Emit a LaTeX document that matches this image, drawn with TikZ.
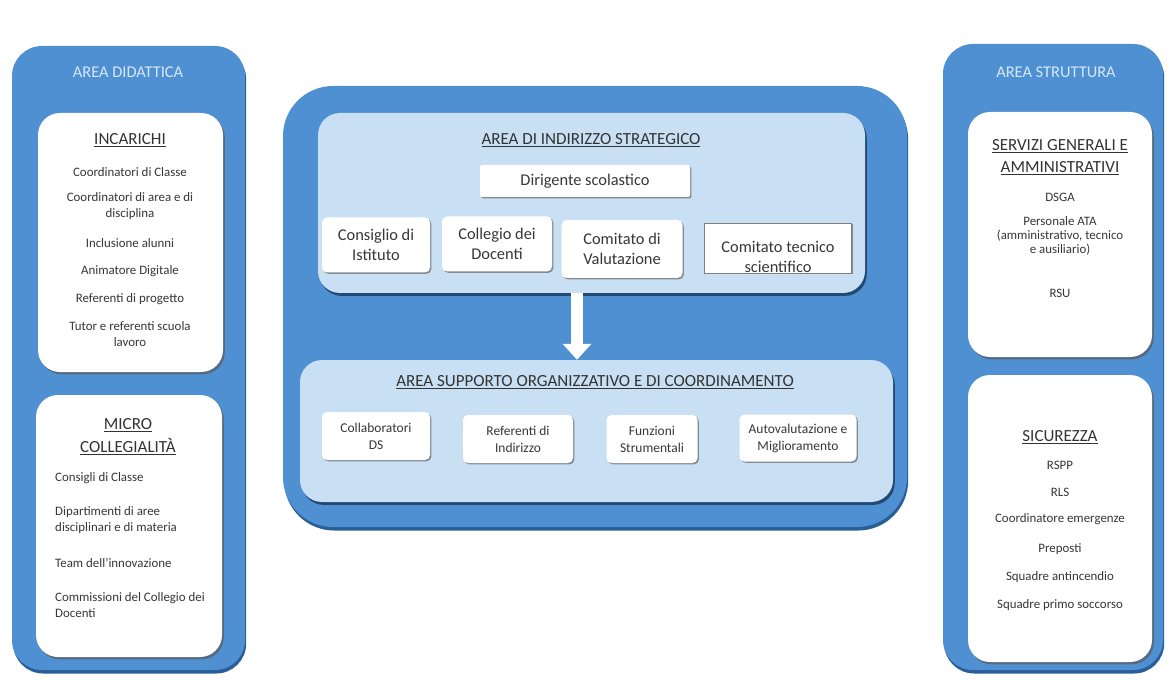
\documentclass[tikz,border=0pt]{standalone}
\usepackage{fontspec}
\setmainfont{Carlito}
\usetikzlibrary{arrows.meta,shadows}

\definecolor{areablu}{RGB}{79,144,210}
\definecolor{bordoblu}{RGB}{42,94,150}
\definecolor{azzurro}{RGB}{201,223,243}
\definecolor{titchiaro}{RGB}{214,231,248}
\definecolor{testo}{RGB}{55,55,55}

\def\pu{0.03cm}

\begin{document}
\begin{tikzpicture}[x=0.03cm, y=-0.03cm,
  colonna/.style={fill=areablu, rounded corners=30*\pu,
    drop shadow={shadow xshift=1pt, shadow yshift=-3pt, fill=bordoblu, opacity=1}},
  grande/.style={colonna, rounded corners=50*\pu},
  cartella/.style={fill=white, rounded corners=22*\pu,
    drop shadow={shadow xshift=1.5pt, shadow yshift=-2pt, fill=black!65, opacity=0.7}},
  pannello/.style={fill=azzurro, rounded corners=22*\pu,
    drop shadow={shadow xshift=1.5pt, shadow yshift=-2.5pt, fill=bordoblu!60!black, opacity=0.8}},
  scritta/.style={text=testo, align=center, font=\fontsize{14}{17}\selectfont},
  casella/.style={scritta, fill=white, rounded corners=5*\pu,
    drop shadow={shadow xshift=1.2pt, shadow yshift=-1.2pt, fill=black!60, opacity=0.7}},
  piccola/.style={casella, font=\fontsize{11.5}{14.5}\selectfont},
  voce/.style={text=testo, align=center, inner sep=0pt, font=\fontsize{11}{13.5}\selectfont},
  titolo/.style={text=black!80, align=center, inner sep=0pt, font=\fontsize{14.5}{18.5}\selectfont},
  area/.style={text=titchiaro, inner sep=0pt, font=\fontsize{14}{17}\selectfont},
  freccia/.style={white, line width=0.36cm, -{Triangle[width=0.84cm, length=0.48cm]}}
]
  \useasboundingbox[fill=white] (0,0) rectangle (1171,680);

  % 三个蓝色大框
  \node[colonna, minimum width=233*\pu, minimum height=624*\pu] (didattica) at (128.5,358) {};
  \node[colonna, minimum width=220*\pu, minimum height=626*\pu] (struttura) at (1053,357) {};
  \node[grande, minimum width=624*\pu, minimum height=441*\pu] (centro) at (595,306.5) {};

  \node[area] (tdid) at (128,72)  {AREA DIDATTICA};
  \node[area] (tstr) at (1056,72) {AREA STRUTTURA};

  % 左栏白框
  \node[cartella, minimum width=185*\pu, minimum height=259*\pu] (incarichi) at (130.5,242.5) {};
  \node[cartella, minimum width=186*\pu, minimum height=262*\pu] (micro) at (129,526) {};

  \node[titolo] (tinc) at (130,140) {\underline{INCARICHI}};
  \node[voce] (inc1) at (130,172) {Coordinatori di Classe};
  \node[voce] (inc2) at (130,206) {Coordinatori di area e di\\disciplina};
  \node[voce] (inc3) at (130,243) {Inclusione alunni};
  \node[voce] (inc4) at (130,271) {Animatore Digitale};
  \node[voce] (inc5) at (130,299) {Referenti di progetto};
  \node[voce] (inc6) at (130,334) {Tutor e referenti scuola\\lavoro};

  \node[titolo, font=\fontsize{14.5}{19.5}\selectfont] (tmic) at (128,437) {\underline{MICRO}\\\underline{COLLEGIALITÀ}};
  \node[voce, anchor=west, align=left] (mic1) at (55,478) {Consigli di Classe};
  \node[voce, anchor=west, align=left] (mic2) at (55,520) {Dipartimenti di aree\\disciplinari e di materia};
  \node[voce, anchor=west, align=left] (mic3) at (55,563) {Team dell'innovazione};
  \node[voce, anchor=west, align=left] (mic4) at (55,605) {Commissioni del Collegio dei\\Docenti};

  % 右栏白框
  \node[cartella, minimum width=184*\pu, minimum height=245*\pu] (servizi) at (1060,234.5) {};
  \node[cartella, minimum width=184*\pu, minimum height=287*\pu] (sicurezza) at (1060,518.5) {};

  \node[titolo] (tser) at (1060,157) {\underline{SERVIZI GENERALI E}\\\underline{AMMINISTRATIVI}};
  \node[voce] (ser1) at (1060,197) {DSGA};
  \node[voce, font=\fontsize{11}{12.2}\selectfont] (ser2) at (1060,236) {Personale ATA\\(amministrativo, tecnico\\e ausiliario)};
  \node[voce] (ser3) at (1060,293) {RSU};

  \node[titolo] (tsic) at (1060,437) {\underline{SICUREZZA}};
  \node[voce] (sic1) at (1060,465) {RSPP};
  \node[voce] (sic2) at (1060,492) {RLS};
  \node[voce] (sic3) at (1060,519) {Coordinatore emergenze};
  \node[voce] (sic4) at (1060,549) {Preposti};
  \node[voce] (sic5) at (1060,577) {Squadre antincendio};
  \node[voce] (sic6) at (1060,605) {Squadre primo soccorso};

  % 中间：战略区
  \node[pannello, minimum width=547*\pu, minimum height=180*\pu] (strat) at (591.5,203) {};
  \node[titolo] (tstrat) at (591,140) {\underline{AREA DI INDIRIZZO STRATEGICO}};
  \node[casella, rounded corners=2*\pu, minimum width=210*\pu, minimum height=32*\pu] (ds) at (585,181) {Dirigente scolastico};
  \node[casella, minimum width=108*\pu, minimum height=55*\pu] (consiglio) at (376,245) {Consiglio di\\Istituto};
  \node[casella, minimum width=110*\pu, minimum height=55*\pu] (collegio) at (497,244) {Collegio dei\\Docenti};
  \node[casella, minimum width=121*\pu, minimum height=58*\pu] (valutaz) at (622,249) {Comitato di\\Valutazione};
  \node[casella, rounded corners=0pt, draw=black!50, minimum width=147*\pu, minimum height=50*\pu] (tecnico) at (778,248) {};
  \begin{scope}
    \clip (tecnico.south west) rectangle (tecnico.north east);
    \node[scritta] (ttec) at (778,257) {Comitato tecnico\\scientifico};
  \end{scope}

  % 中间：支持区
  \node[pannello, minimum width=593*\pu, minimum height=142*\pu] (supp) at (596.5,431) {};
  \node[titolo] (tsupp) at (595,382) {\underline{AREA SUPPORTO ORGANIZZATIVO E DI COORDINAMENTO}};
  \node[piccola, minimum width=108*\pu, minimum height=48*\pu] (collab) at (376,436) {Collaboratori\\DS};
  \node[piccola, minimum width=110*\pu, minimum height=48*\pu] (refer) at (518,439) {Referenti di\\Indirizzo};
  \node[piccola, minimum width=91*\pu, minimum height=48*\pu] (funz) at (652,439) {Funzioni\\Strumentali};
  \node[piccola, minimum width=117*\pu, minimum height=47*\pu] (autov) at (798,438) {Autovalutazione e\\Miglioramento};

  % 白色箭头
  \coordinate (ax) at (577,0);
  \draw[freccia] (ax |- strat.south) -- (ax |- supp.north);
\end{tikzpicture}
\end{document}
